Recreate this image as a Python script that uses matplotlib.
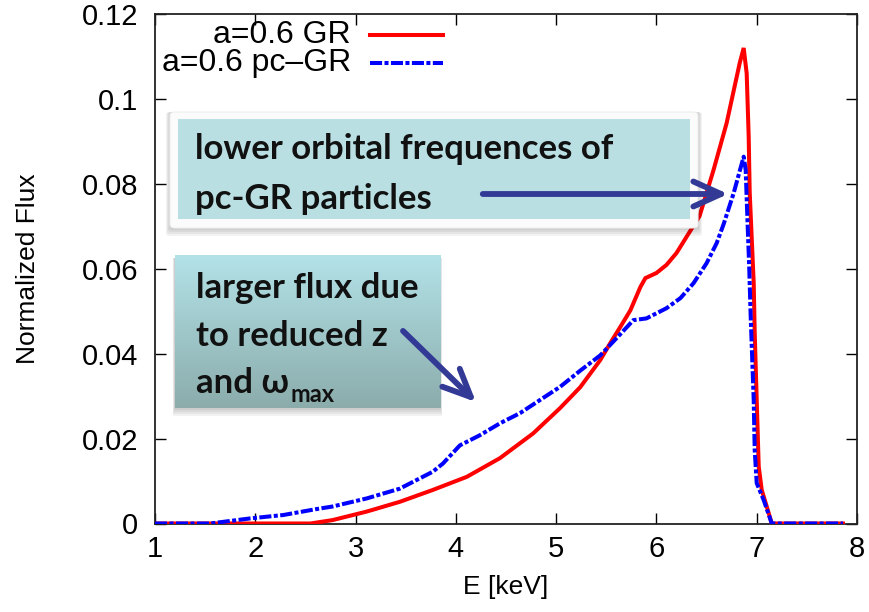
import numpy as np
import matplotlib
matplotlib.use("Agg")
import matplotlib.pyplot as plt
from matplotlib.patches import Rectangle, FancyBboxPatch
from matplotlib.lines import Line2D
from matplotlib.patches import FancyArrowPatch

# ---------------- data ----------------
E_gr = [1.0, 2.55, 2.77, 3.11, 3.44, 3.77, 4.11, 4.44, 4.77, 5.04, 5.24, 5.44,
        5.54, 5.64, 5.74, 5.84, 5.89, 6.00, 6.10, 6.20, 6.30, 6.43, 6.57, 6.70,
        6.83, 6.87, 6.90, 6.92, 6.93, 6.97, 6.98, 7.00, 7.02, 7.05, 7.10, 7.15, 7.86]
F_gr = [0.0, 0.0, 0.0008, 0.0028, 0.0051, 0.0079, 0.0110, 0.0154, 0.0212, 0.0272,
        0.0321, 0.0385, 0.0425, 0.0463, 0.0502, 0.0557, 0.0578, 0.0590, 0.0609,
        0.0637, 0.0675, 0.0724, 0.0833, 0.0943, 0.1084, 0.1120, 0.1060, 0.0911,
        0.0780, 0.0566, 0.0449, 0.0291, 0.0134, 0.0079, 0.0040, 0.0, 0.0]

E_pc = [1.0, 1.55, 1.95, 2.28, 2.61, 2.77, 3.11, 3.44, 3.77, 3.87, 4.04, 4.24,
        4.44, 4.64, 4.84, 5.04, 5.24, 5.44, 5.64, 5.77, 5.90, 6.10, 6.24, 6.37,
        6.50, 6.60, 6.67, 6.77, 6.87, 6.89, 6.91, 6.925, 6.94, 6.97, 6.98, 7.00,
        7.07, 7.15, 7.86]
F_pc = [0.0, 0.0, 0.0012, 0.0020, 0.0034, 0.0040, 0.0059, 0.0082, 0.0122, 0.0141,
        0.0184, 0.0208, 0.0236, 0.0260, 0.0291, 0.0322, 0.0360, 0.0396, 0.0446,
        0.0479, 0.0483, 0.0507, 0.0531, 0.0566, 0.0613, 0.0660, 0.0705, 0.0778,
        0.0864, 0.0833, 0.0700, 0.0605, 0.0487, 0.0291, 0.0173, 0.0095, 0.0055,
        0.0, 0.0]

x_ticks = [1, 2, 3, 4, 5, 6, 7, 8]
y_ticks = [0, 0.02, 0.04, 0.06, 0.08, 0.1, 0.12]
y_tick_labels = ["0", "0.02", "0.04", "0.06", "0.08", "0.1", "0.12"]
legend_labels = ["a=0.6 GR", "a=0.6 pc\u2013GR"]
xlabel = "E [keV]"
ylabel = "Normalized Flux"
note1 = ["lower orbital frequences of", "pc-GR particles"]
note2 = ["larger flux due", "to reduced z", "and \u03c9"]
note2_sub = "max"

# ---------------- figure ----------------
W, H = 869, 612
fig = plt.figure(figsize=(W / 100, H / 100), dpi=100)
plt.rcParams['font.family'] = ['Liberation Sans', 'DejaVu Sans']


def P(x, y):
    return (x / W, 1 - y / H)


ax = fig.add_axes([155 / W, 1 - 523.5 / H, (857 - 155) / W, (523.5 - 14) / H])
ax.plot(E_gr, F_gr, color='#ff0000', lw=2.9, solid_joinstyle='miter', zorder=3)
ax.plot(E_pc, F_pc, color='#0000ff', lw=2.9,
        linestyle=(0, (3, 0.6, 1, 0.6)), zorder=4)
ax.set_xlim(1, 8)
ax.set_ylim(0, 0.12)
ax.set_xticks(x_ticks)
ax.set_xticklabels([str(v) for v in x_ticks])
ax.set_yticks(y_ticks)
ax.set_yticklabels(y_tick_labels)
ax.tick_params(direction='in', length=8, width=1, top=True, right=True,
               labelsize=21, pad=12, colors='black')
ax.tick_params(axis='x', pad=8)
for s in ax.spines.values():
    s.set_linewidth(1.3)
    s.set_color('#222222')
ax.set_xlabel(xlabel, fontsize=19, labelpad=9)
ax.set_ylabel(ylabel, fontsize=19, labelpad=30)

# legend (manual, gnuplot style: right-aligned text, sample to the right)
fig.text(*P(351, 35), legend_labels[0], fontsize=23, ha='right', va='center')
fig.text(*P(351, 63), legend_labels[1], fontsize=23, ha='right', va='center')
fig.add_artist(Line2D([370 / W, 443 / W], [1 - 35 / H] * 2, color='#ff0000', lw=2.9))
fig.add_artist(Line2D([370 / W, 443 / W], [1 - 63 / H] * 2, color='#0000ff', lw=2.9,
                      linestyle=(0, (3, 0.6, 1, 0.6))))

# ---------------- annotation box 1 ----------------
for i in range(4):
    d = 2 + i * 2
    fig.add_artist(FancyBboxPatch(((170 - d * 0.5) / W, 1 - (228 + d) / H),
                                  (528 + d) / W, (116 + d) / H,
                                  boxstyle='round,pad=0,rounding_size=0.004',
                                  fc='black', ec='none', alpha=0.05, zorder=5))
fig.add_artist(FancyBboxPatch((170 / W, 1 - 228 / H), 528 / W, 116 / H,
                              boxstyle='round,pad=0,rounding_size=0.006',
                              fc='#fbfbfb', ec='#eeeeee', lw=0.8, zorder=6))
fig.add_artist(Rectangle((178 / W, 1 - 219 / H), 512 / W, 100 / H,
                         fc='#b9dfe3', ec='none', zorder=7))
tf = ['Lato', 'DejaVu Sans']
fs_note = 25
fig.text(*P(195, 159), note1[0], fontsize=fs_note, fontweight='bold',
         family=tf, va='baseline', ha='left', zorder=9, color='#111111')
fig.text(*P(195, 209), note1[1], fontsize=fs_note, fontweight='bold',
         family=tf, va='baseline', ha='left', zorder=9, color='#111111')

# ---------------- annotation box 2 (gradient) ----------------
for i in range(4):
    d = 2 + i * 2
    fig.add_artist(Rectangle(((175 - d * 0.3) / W, 1 - (408 + d) / H),
                             (265 + d * 0.6) / W, (150 + d) / H,
                             fc='black', ec='none', alpha=0.05, zorder=5))
bax = fig.add_axes([175 / W, 1 - 408 / H, 265 / W, 153 / H], zorder=6)
c_top = np.array([0xb3, 0xe2, 0xe8]) / 255
c_bot = np.array([0x8b, 0xac, 0xab]) / 255
t = np.linspace(0, 1, 256)[:, None]
grad = (c_top[None, :] * (1 - t) + c_bot[None, :] * t)[:, None, :]
bax.imshow(grad, aspect='auto', extent=[0, 1, 0, 1], origin='upper')
bax.set_axis_off()

texts2 = []
for txt, yb in zip(note2, [298, 346, 393]):
    texts2.append(fig.text(*P(196, yb), txt, fontsize=fs_note, fontweight='bold',
                           family=tf, va='baseline', ha='left', zorder=9,
                           color='#111111'))
fig.canvas.draw()
bb = texts2[2].get_window_extent()
fig.text((bb.x1 + 1) / W, (1 - 402 / H), note2_sub, fontsize=17, fontweight='bold',
         family=tf, va='baseline', ha='left', zorder=9, color='#111111')

# ---------------- arrows ----------------
acol = '#333a96'
for (x0, y0), (x1, y1) in [((480, 194), (731, 194)), ((401, 329), (478, 404))]:
    arr = FancyArrowPatch(P(x0, y0), P(x1, y1), transform=fig.transFigure,
                          arrowstyle='->,head_length=2.0,head_width=0.9',
                          mutation_scale=10, color=acol, lw=4.2,
                          capstyle='round', joinstyle='round', zorder=10)
    fig.add_artist(arr)

fig.savefig('out.png', dpi=100)
